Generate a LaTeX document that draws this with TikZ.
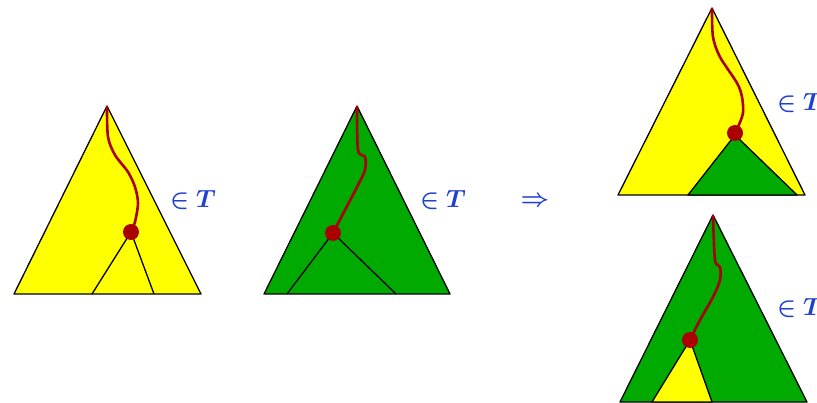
\documentclass[tikz,border=0pt]{standalone}
\usepackage{amsmath,amssymb}
\usepackage{bm}
\usetikzlibrary{positioning}
\definecolor{treeyellow}{HTML}{FFFF00}
\definecolor{treegreen}{HTML}{00AA00}
\definecolor{pathred}{HTML}{AA0000}
\definecolor{labelblue}{HTML}{2040D0}
\tikzset{
  yellowtree/.style={draw=black, line width=1.3pt, fill=treeyellow, line join=round},
  greentree/.style={draw=black, line width=1.3pt, fill=treegreen, line join=round},
  edge/.style={draw=black, line width=1.3pt},
  redpath/.style={draw=pathred, line width=2.6pt, line cap=round},
  knot/.style={circle, fill=pathred, minimum size=16pt, inner sep=0pt},
  member/.style={text=labelblue, font=\fontsize{28}{32}\selectfont, inner sep=0pt},
}
\begin{document}
\begin{tikzpicture}[x=1pt,y=-1pt]
\useasboundingbox (0,0) rectangle (817,403);
% left: yellow tree with subtree
\draw[yellowtree] (107,106) -- (14,294) -- (201,294) -- cycle;
\draw[edge] (92,294) -- (131,232) -- (154,294);
\draw[redpath] plot[smooth] coordinates {(107,107) (108,137) (115,155) (128,172) (135,187) (138,203) (135,222) (131,232)};
\node[knot] (k1) at (131,232) {};
\node[member] (m1) at (193,200) {$\bm{\in}\bm{T}$};
% middle: green tree with subtree
\draw[greentree] (357,106) -- (264,294) -- (450,294) -- cycle;
\draw[edge] (287,294) -- (333,233) -- (396,294);
\draw[redpath] plot[smooth] coordinates {(357,107) (358,150) (365,157) (365,170) (357,187) (345,210) (333,233)};
\node[knot] (k2) at (333,233) {};
\node[member] (m2) at (443,200) {$\bm{\in}\bm{T}$};
\node[member, font=\fontsize{33}{36}\selectfont] (imp) at (535,202) {$\bm{\Rightarrow}$};
% right top: yellow tree, green subtree
\draw[yellowtree] (712,8) -- (618,195) -- (805,195) -- cycle;
\draw[greentree] (735,135) -- (688,195) -- (797,195) -- cycle;
\draw[redpath] plot[smooth] coordinates {(712,9) (713,37) (720,57) (737,83) (742,97) (743,113) (738,127) (735,133)};
\node[knot] (k3) at (735,133) {};
\node[member, anchor=west] (m3) at (777,103) {$\bm{\in}\bm{T}$};
% right bottom: green tree, yellow subtree
\draw[greentree] (713,215) -- (620,402) -- (807,402) -- cycle;
\draw[yellowtree] (690,340) -- (652,402) -- (712,402) -- cycle;
\draw[redpath] plot[smooth] coordinates {(713,216) (715,260) (720,267) (720,280) (713,297) (700,320) (690,340)};
\node[knot] (k4) at (690,340) {};
\node[member, anchor=west] (m4) at (777,308) {$\bm{\in}\bm{T}$};
\end{tikzpicture}
\end{document}
